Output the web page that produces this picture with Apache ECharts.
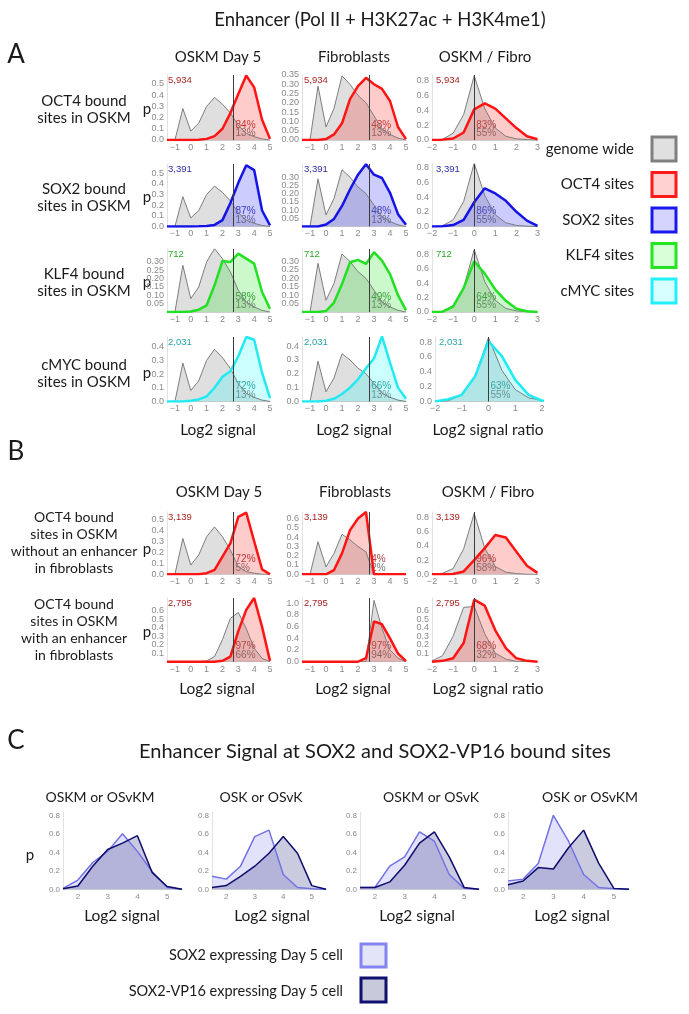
<!DOCTYPE html>
<html><head><meta charset="utf-8">
<script src="https://cdn.jsdelivr.net/npm/echarts@6/dist/echarts.min.js"></script>
<style>html,body{margin:0;padding:0;background:#fff}#c{width:689px;height:1014px}</style>
</head><body><div id="c"></div>
<script>
// ================= DATA =================
// x positions (log2 signal / ratio bins)
const xSignal = [-1.5,-1,-0.5,0,0.5,1,1.5,2,2.5,3,3.5,4,4.5,5];
const xRatio  = [-2,-1.5,-1,-0.5,0,0.5,1,1.5,2,2.5,3];
const xC      = [1.5,2,2.5,3,3.5,4,4.5,5,5.5];

// tick labels
const xTicksSignal = [-1,0,1,2,3,4,5];
const xTicksRatio  = [-2,-1,0,1,2,3];
const xTicksRatio4 = [-2,-1,0,1,2];
const xTicksC      = [2,3,4,5];
const yT05  = [0,0.1,0.2,0.3,0.4,0.5];
const yT04  = [0,0.1,0.2,0.3,0.4];
const yT06  = [0,0.1,0.2,0.3,0.4,0.5,0.6];
const yT07  = [0,0.1,0.2,0.3,0.4,0.5,0.6,0.7];
const yT035 = [0,0.05,0.1,0.15,0.2,0.25,0.3,0.35];
const yT08  = [0,0.2,0.4,0.6,0.8];
const yT10  = [0,0.2,0.4,0.6,0.8,1.0];

// Panel A : genome wide
const genomeOSKM  = [0,0,0.28,0.08,0.15,0.30,0.38,0.32,0.24,0.13,0.06,0.03,0.01,0];
const genomeFibro = [0,0,0.29,0.07,0.17,0.345,0.30,0.24,0.20,0.13,0.06,0.03,0.01,0];
const genomeRatio = [0,0.01,0.09,0.34,0.86,0.42,0.16,0.05,0.015,0.005,0];
// Panel A : factor bound sites
const oct4OSKM  = [0,0,0,0,0.002,0.01,0.035,0.1,0.24,0.41,0.575,0.47,0.18,0.01];
const oct4Fibro = [0,0,0,0.005,0.03,0.09,0.22,0.29,0.335,0.30,0.275,0.21,0.07,0.005];
const oct4Ratio = [0,0.005,0.02,0.1,0.41,0.49,0.42,0.29,0.16,0.05,0.01];
const sox2OSKM  = [0,0,0,0,0.002,0.005,0.015,0.06,0.22,0.41,0.575,0.53,0.15,0.01];
const sox2Fibro = [0,0,0,0.012,0.046,0.125,0.225,0.315,0.378,0.315,0.295,0.205,0.075,0.01];
const sox2Ratio = [0,0.005,0.02,0.09,0.33,0.52,0.45,0.35,0.2,0.08,0.01];
const klf4OSKM  = [0,0,0,0.003,0.014,0.04,0.16,0.306,0.30,0.35,0.32,0.29,0.12,0.02];
const klf4Fibro = [0,0,0,0.006,0.056,0.166,0.296,0.31,0.286,0.356,0.306,0.226,0.1,0.01];
const klf4Ratio = [0,0.005,0.075,0.33,0.70,0.53,0.31,0.155,0.045,0.01,0];
const mycOSKM   = [0,0,0,0.005,0.015,0.037,0.1,0.18,0.22,0.33,0.47,0.45,0.21,0.025];
const mycFibro  = [0,0,0,0.005,0.02,0.054,0.1,0.16,0.24,0.31,0.47,0.28,0.1,0.02];
const mycRatio  = [0,0.03,0.09,0.34,0.81,0.61,0.29,0.09,0.01,0,0];
// Panel A counts / percentages
const countsA = ['5,934','3,391','712','2,031'];
const pctA = [
  [['84%','13%'],['48%','13%'],['83%','55%']],
  [['87%','13%'],['48%','13%'],['86%','55%']],
  [['58%','13%'],['49%','13%'],['64%','55%']],
  [['72%','13%'],['66%','13%'],['63%','55%']]
];

// Panel B
const genomeB1OSKM  = [0,0,0.325,0.084,0.175,0.34,0.43,0.34,0.22,0.07,0.024,0.01,0,0];
const oct4B1OSKM    = [0,0,0,0,0,0.01,0.04,0.16,0.28,0.52,0.56,0.3,0.045,0];
const genomeB1Fibro = [0,0,0.35,0.08,0.225,0.43,0.37,0.3,0.24,0,0,0,0,0];
const oct4B1Fibro   = [0,0,0,0,0.046,0.225,0.475,0.6,0.67,0,0,0,0,0];
const genomeB1Ratio = [0,0.015,0.08,0.36,0.86,0.37,0.11,0.03,0.01,0,0];
const oct4B1Ratio   = [0,0,0.005,0.04,0.2,0.37,0.555,0.52,0.32,0.12,0.02];
const genomeB2OSKM  = [0,0,0,0,0,0.01,0.06,0.26,0.51,0.58,0.39,0.16,0.04,0];
const oct4B2OSKM    = [0,0,0,0,0,0,0,0.01,0.06,0.36,0.61,0.75,0.41,0.01];
const genomeB2Fibro = [0,0,0,0,0,0,0,0,0,1.05,0.57,0.2,0.06,0];
const oct4B2Fibro   = [0,0,0,0,0,0,0,0,0.06,0.69,0.64,0.4,0.14,0.01];
const genomeB2Ratio = [0.01,0.07,0.3,0.64,0.65,0.33,0.1,0.03,0.005,0,0];
const oct4B2Ratio   = [0,0.01,0.04,0.22,0.73,0.66,0.37,0.16,0.04,0.01,0];
const countsB = ['3,139','2,795'];
const pctB = [
  [['72%','5%'],['4%','2%'],['96%','58%']],
  [['97%','66%'],['97%','94%'],['68%','32%']]
];

// Panel C (SOX2 = light, SOX2-VP16 = dark)
const cTitles = ['OSKM or OSvKM','OSK or OSvK','OSKM or OSvK','OSK or OSvKM'];
const sox2Light = [
  [0.01,0.1,0.29,0.41,0.6,0.41,0.19,0.02,0],
  [0.14,0.11,0.25,0.57,0.64,0.16,0.02,0.005,0],
  [0.02,0.02,0.25,0.35,0.62,0.52,0.16,0.01,0],
  [0.09,0.11,0.28,0.8,0.52,0.16,0.02,0.005,0]
];
const sox2VP16Dark = [
  [0.005,0.036,0.25,0.43,0.5,0.58,0.18,0.03,0],
  [0.02,0.04,0.14,0.25,0.39,0.57,0.39,0.04,0],
  [0.02,0.02,0.08,0.26,0.5,0.62,0.35,0.02,0],
  [0.05,0.09,0.235,0.22,0.45,0.64,0.28,0.01,0]
];

// ================= STYLE / LAYOUT =================
const FONT = 'Lato, "Open Sans", sans-serif';
const TICKFONT = '"Liberation Sans", Arial, sans-serif';
const GRAY = {line:'#7d7d7d', fill:'rgba(140,140,140,0.28)', w:1};
const TFS = {
  OCT4:{line:'#ff1414', fill:'rgba(255,0,0,0.2)', count:'#a82424', pct:'#b04040', w:2.5},
  SOX2:{line:'#1414e6', fill:'rgba(0,0,255,0.2)', count:'#2c2ca0', pct:'#4848b0', w:2.5},
  KLF4:{line:'#22e022', fill:'rgba(0,225,0,0.2)', count:'#2aaa2a', pct:'#3f8f3f', w:2.5},
  cMYC:{line:'#22eaf2', fill:'rgba(0,255,255,0.2)', count:'#2aa4aa', pct:'#2f8f90', w:2.5}
};
const colLeft = [167, 302, 432];
const colWidth = [103, 104, 105.5];

const grids=[], xAxes=[], yAxes=[], series=[], graphic=[];
const fmtX = v => (v<0?'\u2212':'') + Math.abs(v);

function T(text, x, y, size, fill, align, family){
  graphic.push({type:'text', x:x, y:y, silent:true, style:{text:text, fontSize:size, fontFamily:family||FONT,
    fill:fill||'#1a1a1a', textAlign:align||'center', textVerticalAlign:'middle'}});
}
function R(x,y,w,h,fill,stroke){
  graphic.push({type:'rect', silent:true, shape:{x:x,y:y,width:w,height:h}, style:{fill:fill, stroke:stroke, lineWidth:3}});
}

function addPlot(p){
  const i = grids.length;
  grids.push({left:p.left, top:p.top, width:p.width, height:p.height});
  const fs = p.fs || 9;
  xAxes.push({gridIndex:i, type:'value', min:p.xmin, max:p.xmax,
    axisLine:{show:true, onZero:false, lineStyle:{color:'#cfcfcf', width:1}},
    axisTick:{show:false}, splitLine:{show:false},
    axisLabel:{customValues:p.xticks, formatter:fmtX, fontSize:fs, color:'#8a8a8a', margin:3, fontFamily:TICKFONT}});
  yAxes.push({gridIndex:i, type:'value', min:0, max:p.ymax,
    axisLine:{show:true, onZero:false, lineStyle:{color:'#e2e2e2', width:1}},
    axisTick:{show:false}, splitLine:{show:false},
    axisLabel:{customValues:p.yticks, formatter:v=>v.toFixed(p.ydec), fontSize:fs, color:'#8a8a8a', margin:3, fontFamily:TICKFONT}});
  p.layers.forEach(l=>{
    series.push({type:'line', xAxisIndex:i, yAxisIndex:i, data:p.x.map((x,k)=>[x,l.y[k]]),
      symbol:'none', silent:true, animation:false, lineStyle:{width:0, opacity:0},
      areaStyle:{color:l.s.fill, opacity:1}});
  });
  p.layers.forEach((l,j)=>{
    const s = {type:'line', xAxisIndex:i, yAxisIndex:i, data:p.x.map((x,k)=>[x,l.y[k]]),
      symbol:'none', silent:true, animation:false, lineStyle:{width:l.s.w, color:l.s.line}};
    if(j===0 && p.vline!==undefined){
      s.markLine = {symbol:['none','none'], silent:true, animation:false, label:{show:false},
        lineStyle:{color:'#3c3c3c', width:1, type:'solid'}, data:[{xAxis:p.vline}]};
    }
    series.push(s);
  });
  if(p.count){
    T(p.count, p.left + p.countDx, p.top + 5, 9.5, p.tf.count, 'left', TICKFONT);
  }
  if(p.pct){
    const vx = p.left + (p.vline - p.xmin)/(p.xmax - p.xmin)*p.width + 2;
    const base = p.top + p.height;
    T(p.pct[0], vx, base - 15, 10, p.tf.pct, 'left', TICKFONT);
    T(p.pct[1], vx, base - 6.5, 10, '#777777', 'left', TICKFONT);
  }
}

// ---------- Panel A ----------
const rowsA = [
  {tf:'OCT4', top:75,  base:140,   data:[oct4OSKM, oct4Fibro, oct4Ratio], ymax:[0.58,0.35,0.87], yt:[yT05,yT035,yT08], label:['OCT4 bound','sites in OSKM'], p:109},
  {tf:'SOX2', top:164, base:226.5, data:[sox2OSKM, sox2Fibro, sox2Ratio], ymax:[0.587,0.38,0.85], yt:[yT05,yT035,yT08], label:['SOX2 bound','sites in OSKM'], p:197},
  {tf:'KLF4', top:249, base:312,   data:[klf4OSKM, klf4Fibro, klf4Ratio], ymax:[0.378,0.375,0.87], yt:[yT035,yT035,yT08], label:['KLF4 bound','sites in OSKM'], p:282},
  {tf:'cMYC', top:337, base:401.5, data:[mycOSKM, mycFibro, mycRatio], ymax:[0.47,0.465,0.868], yt:[yT04,yT04,yT08], label:['cMYC bound','sites in OSKM'], p:373}
];
const genomeA = [genomeOSKM, genomeFibro, genomeRatio];
rowsA.forEach((r,ri)=>{
  for(let c=0;c<3;c++){
    const ratio = c===2;
    const last = ratio && ri===3;
    addPlot({
      left: last ? 435 : colLeft[c], width: last ? 107 : colWidth[c],
      top:r.top, height:r.base-r.top,
      x: ratio ? xRatio : xSignal,
      xmin: ratio ? -2 : -1.5, xmax: ratio ? (last?2:3) : 5,
      xticks: ratio ? (last?xTicksRatio4:xTicksRatio) : xTicksSignal,
      ymax:r.ymax[c], yticks:r.yt[c], ydec: r.yt[c]===yT035 ? 2 : 1,
      layers:[{y:genomeA[c], s:GRAY},{y:r.data[c], s:TFS[r.tf]}],
      vline: ratio ? 0 : 2.7, tf:TFS[r.tf],
      count: countsA[ri], countDx: [1,2,4][c], pct: pctA[ri][c]
    });
  }
  T(r.label[0], 84, r.p-8, 15);
  T(r.label[1], 84, r.p+9, 15);
  T('p', 147, r.p, 15);
});

// ---------- Panel B ----------
const rowsB = [
  {top:512, base:574.3, g:[genomeB1OSKM, genomeB1Fibro, genomeB1Ratio], d:[oct4B1OSKM, oct4B1Fibro, oct4B1Ratio],
   ymax:[0.565,0.67,0.88], yt:[yT05,yT06,yT08], label:['OCT4 bound','sites in OSKM','without an enhancer','in fibroblasts'], p:549},
  {top:598, base:661.7, g:[genomeB2OSKM, genomeB2Fibro, genomeB2Ratio], d:[oct4B2OSKM, oct4B2Fibro, oct4B2Ratio],
   ymax:[0.75,1.09,0.75], yt:[yT07,yT10,yT07], label:['OCT4 bound','sites in OSKM','with an enhancer','in fibroblasts'], p:632}
];
rowsB.forEach((r,ri)=>{
  for(let c=0;c<3;c++){
    const ratio = c===2;
    addPlot({
      left:colLeft[c], width:colWidth[c], top:r.top, height:r.base-r.top,
      x: ratio ? xRatio : xSignal, xmin: ratio ? -2 : -1.5, xmax: ratio ? 3 : 5,
      xticks: ratio ? xTicksRatio : xTicksSignal,
      ymax:r.ymax[c], yticks:r.yt[c], ydec:1,
      layers:[{y:r.g[c], s:GRAY},{y:r.d[c], s:TFS.OCT4}],
      vline: ratio ? 0 : 2.7, tf:TFS.OCT4,
      count: countsB[ri], countDx:[1,2,4][c], pct: pctB[ri][c]
    });
  }
  const mid = (r.top + r.base)/2;
  r.label.forEach((t,k)=>T(t, 74, mid - 25.5 + k*17, 14));
  T('p', 147, r.p, 15);
});

// ---------- Panel C ----------
const cLeft = [63, 212, 360, 508], cWidth = [119, 114, 119, 121];
const LIGHT = {line:'#7272e6', fill:'rgba(110,110,230,0.2)', w:1.5};
const DARK  = {line:'#0d0d6b', fill:'rgba(20,20,110,0.22)', w:1.5};
for(let c=0;c<4;c++){
  addPlot({left:cLeft[c], width:cWidth[c], top:812, height:77.3, x:xC, xmin:1.5, xmax:5.5, xticks:xTicksC,
    ymax:0.836, yticks:yT08, ydec:1, fs:8, layers:[{y:sox2Light[c], s:LIGHT},{y:sox2VP16Dark[c], s:DARK}]});
}
[100,261,431,590].forEach((x,c)=>T(cTitles[c], x, 797, 14));
[122,272,417,572].forEach(x=>T('Log2 signal', x, 916, 15.5));
T('p', 30, 855, 15);

// ---------- Titles & labels ----------
T('Enhancer (Pol II + H3K27ac + H3K4me1)', 380, 20, 18.5);
T('A', 16, 55, 26);
T('B', 16, 452, 26);
T('C', 16, 741, 26);
['OSKM Day 5','Fibroblasts','OSKM / Fibro'].forEach((t,c)=>{
  T(t, [218,354,485][c], 57, 15);
  T(t, [219,355,488][c], 492, 15);
});
['Log2 signal','Log2 signal','Log2 signal ratio'].forEach((t,c)=>{
  T(t, [218,354,488][c], 430, 15.5);
  T(t, [217,353,488][c], 689, 15.5);
});
T('Enhancer Signal at SOX2 and SOX2-VP16 bound sites', 375, 752, 20);

// legend A
const legA = [['genome wide','#e0e0e0','#808080'],['OCT4 sites','#ffd2d2','#ff1a1a'],['SOX2 sites','#d4d4ff','#1a1aee'],
              ['KLF4 sites','#d8ffd8','#22e622'],['cMYC sites','#d8ffff','#22f0f8']];
legA.forEach((l,k)=>{
  const y = 137 + k*35.5;
  R(652, y, 24, 24, l[1], l[2]);
  T(l[0], 634, y+12, 15, '#1a1a1a', 'right');
});
// legend C
R(361, 944, 25, 23, '#e4e4f8', '#8484f0');
T('SOX2 expressing Day 5 cell', 343, 955, 14.5, '#1a1a1a', 'right');
R(361, 978, 25, 24, '#c9c9dc', '#10106e');
T('SOX2-VP16 expressing Day 5 cell', 343, 991, 14.5, '#1a1a1a', 'right');

const chart = echarts.init(document.getElementById('c'), null, {renderer:'canvas', width:689, height:1014});
chart.setOption({animation:false, backgroundColor:'#ffffff', grid:grids, xAxis:xAxes, yAxis:yAxes, series:series, graphic:graphic});
</script></body></html>
